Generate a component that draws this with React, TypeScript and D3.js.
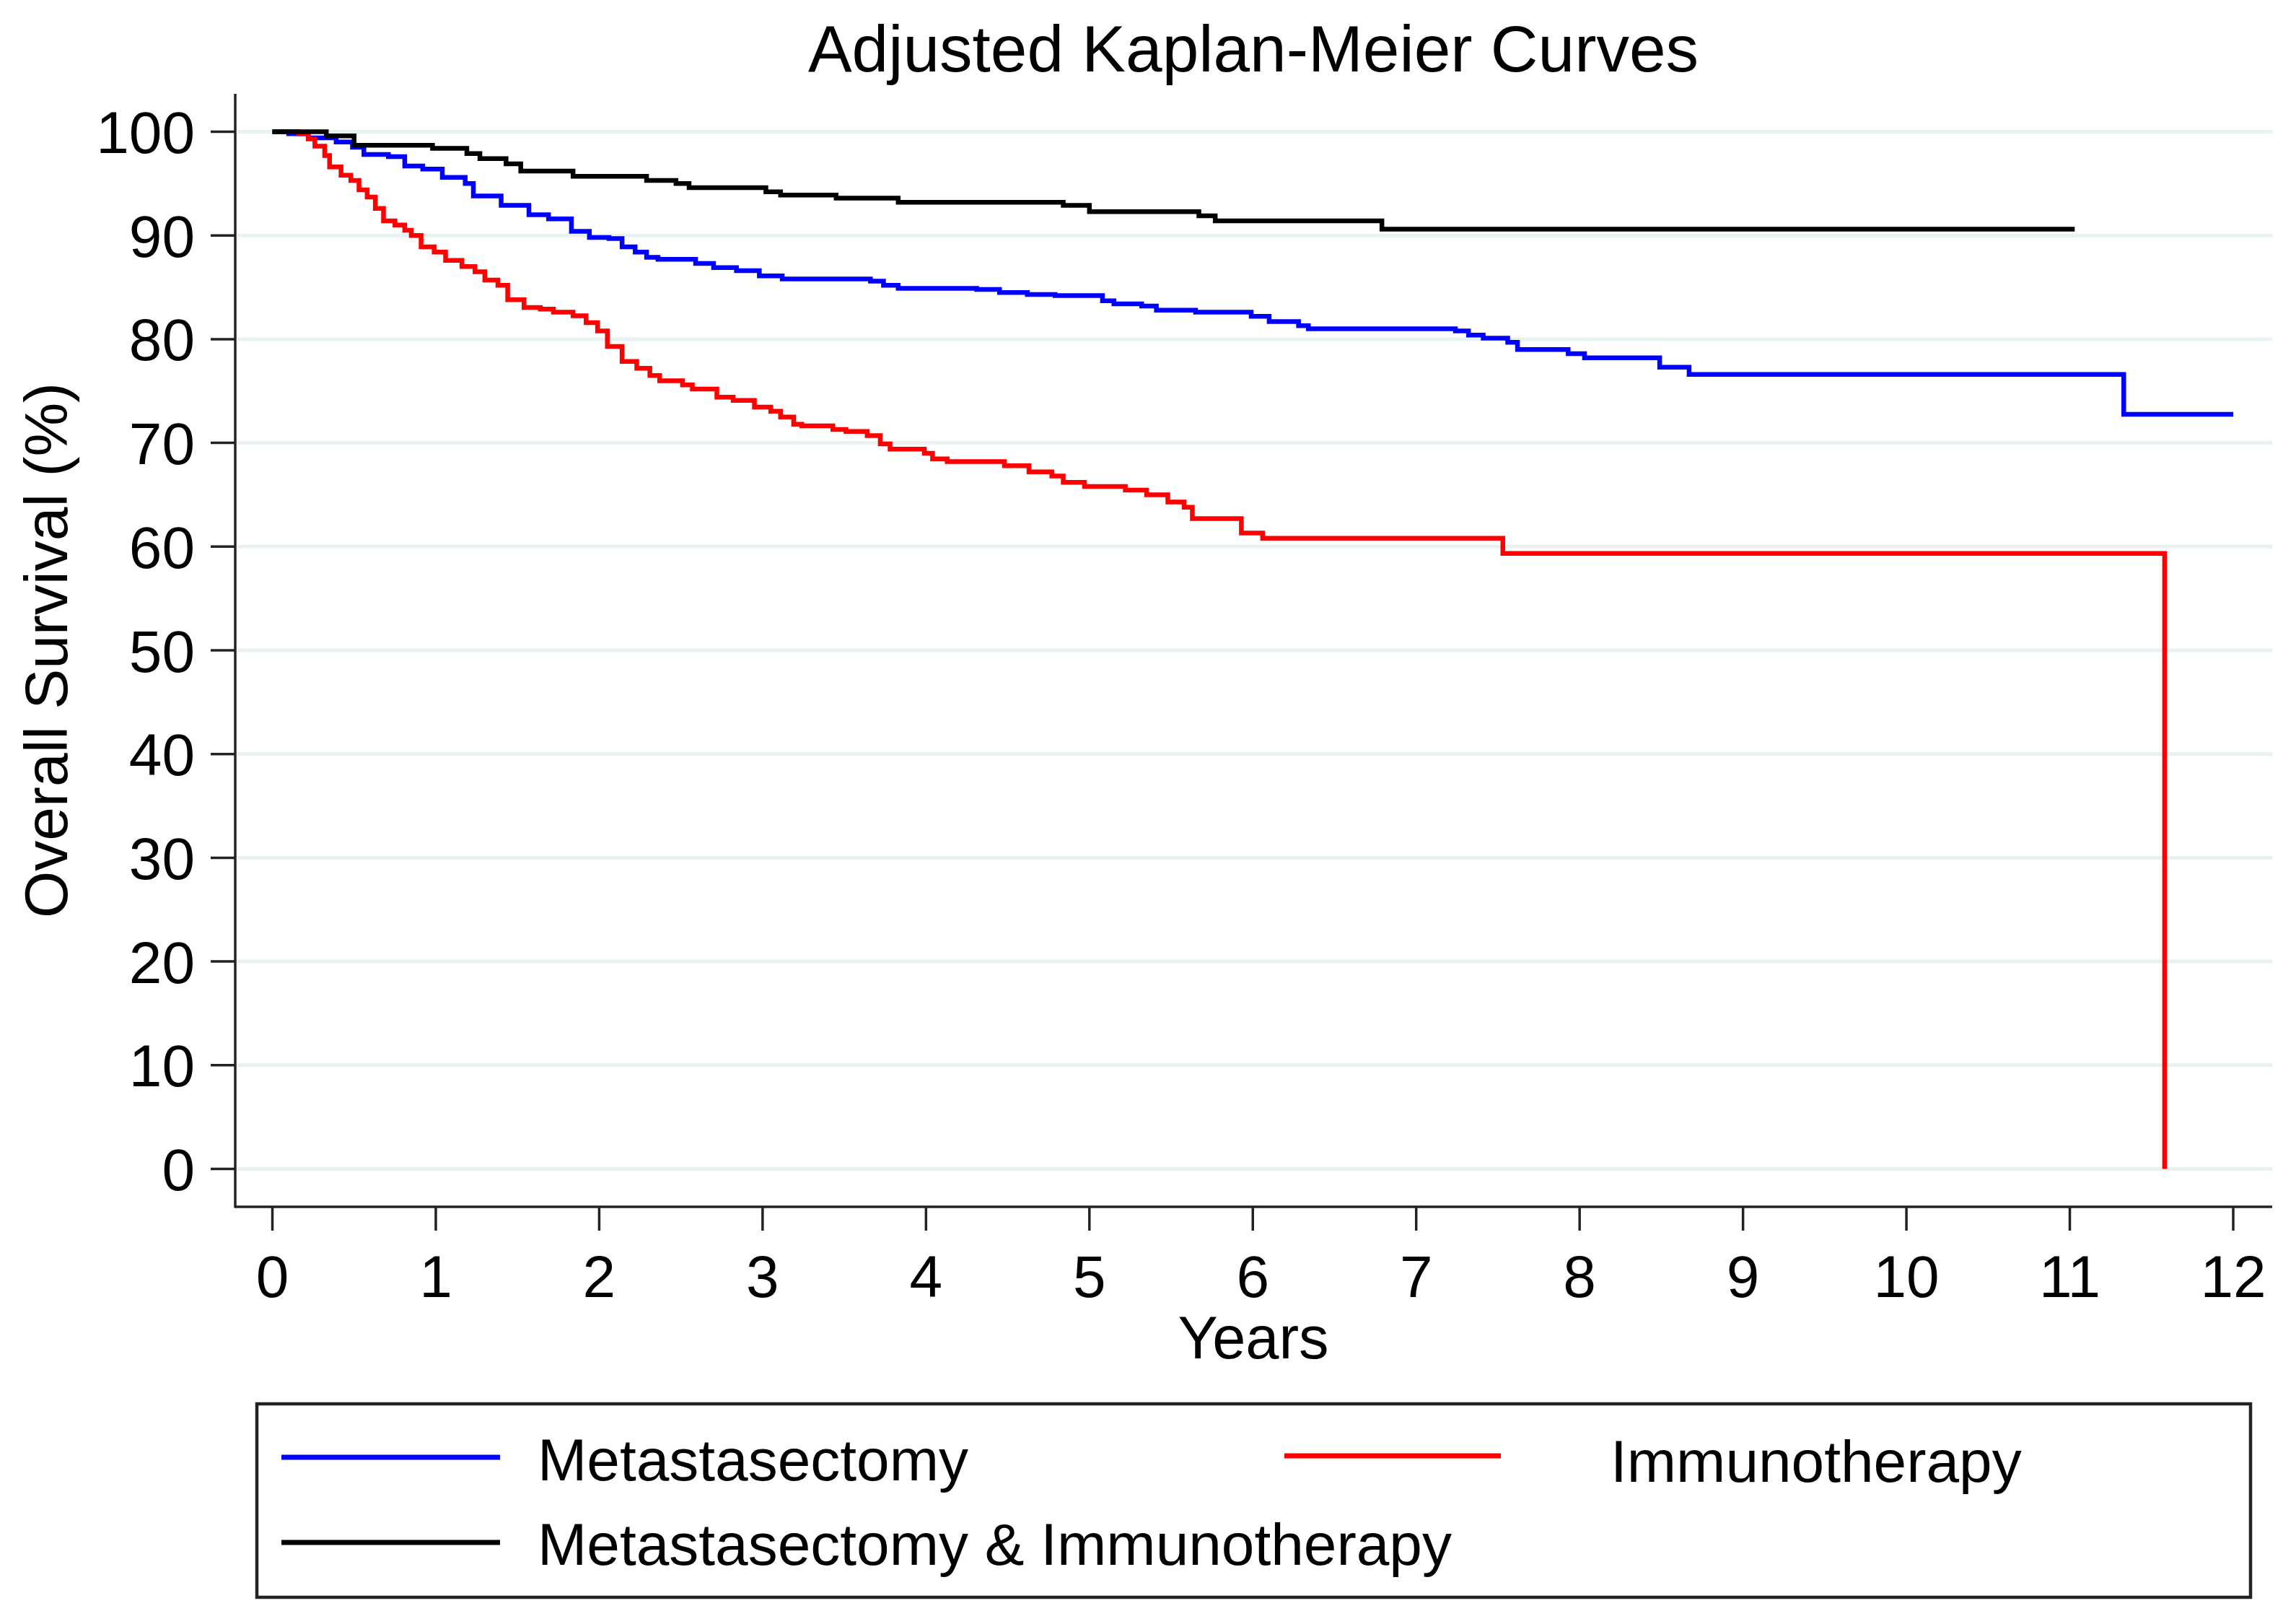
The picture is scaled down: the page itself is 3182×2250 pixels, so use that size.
import * as d3 from "d3";

const WIDTH = 3182;
const HEIGHT = 2250;
const FONT = "'Liberation Sans', Arial, Helvetica, sans-serif";

// x in years, y in % survival
const metaTimes = [0, 0.1, 0.22, 0.39, 0.49, 0.56, 0.71, 0.81, 0.92, 1.04, 1.18, 1.23, 1.4, 1.57, 1.69, 1.83, 1.94, 2.06, 2.14, 2.22, 2.29, 2.36, 2.59, 2.7, 2.84, 2.98, 3.12, 3.66, 3.74, 3.83, 4.31, 4.45, 4.62, 4.79, 5.08, 5.15, 5.32, 5.41, 5.65, 5.99, 6.1, 6.28, 6.34, 7.24, 7.32, 7.41, 7.56, 7.62, 7.93, 8.03, 8.49, 8.67, 11.33, 12.0];
const metaSurv = [100, 99.8, 99.4, 99.0, 98.5, 97.8, 97.6, 96.7, 96.4, 95.6, 95.0, 93.8, 92.9, 92.0, 91.6, 90.4, 89.8, 89.7, 88.9, 88.4, 87.9, 87.7, 87.3, 86.9, 86.6, 86.1, 85.8, 85.6, 85.2, 84.9, 84.8, 84.5, 84.3, 84.2, 83.7, 83.4, 83.2, 82.8, 82.6, 82.2, 81.7, 81.3, 81.0, 80.8, 80.4, 80.1, 79.7, 79.0, 78.6, 78.2, 77.3, 76.6, 72.75, 72.75];

const immunoTimes = [0, 0.16, 0.22, 0.26, 0.32, 0.35, 0.42, 0.48, 0.53, 0.58, 0.63, 0.68, 0.75, 0.81, 0.85, 0.91, 0.99, 1.06, 1.16, 1.24, 1.3, 1.38, 1.44, 1.54, 1.64, 1.72, 1.84, 1.92, 1.99, 2.05, 2.14, 2.23, 2.31, 2.37, 2.51, 2.57, 2.72, 2.82, 2.95, 3.05, 3.11, 3.19, 3.24, 3.43, 3.51, 3.64, 3.72, 3.78, 3.99, 4.04, 4.13, 4.48, 4.63, 4.77, 4.84, 4.97, 5.22, 5.35, 5.48, 5.58, 5.63, 5.93, 6.06, 7.53, 11.58];
const immunoSurv = [100, 99.8, 99.3, 98.6, 97.7, 96.6, 95.8, 95.3, 94.4, 93.7, 92.6, 91.4, 91.0, 90.5, 90.0, 88.9, 88.4, 87.6, 87.0, 86.5, 85.7, 85.2, 83.8, 83.05, 82.9, 82.6, 82.25, 81.6, 80.8, 79.3, 77.85, 77.2, 76.5, 76.0, 75.6, 75.2, 74.4, 74.1, 73.45, 73.05, 72.5, 71.8, 71.65, 71.3, 71.1, 70.7, 69.9, 69.4, 69.0, 68.45, 68.2, 67.8, 67.2, 66.8, 66.2, 65.8, 65.45, 65.0, 64.3, 63.8, 62.7, 61.3, 60.8, 59.35, 0];

const bothTimes = [0, 0.33, 0.5, 0.98, 1.19, 1.27, 1.43, 1.52, 1.84, 2.29, 2.47, 2.55, 3.02, 3.11, 3.45, 3.83, 4.84, 5.0, 5.67, 5.77, 6.79, 11.03];
const bothSurv = [100, 99.6, 98.7, 98.4, 97.9, 97.4, 96.9, 96.2, 95.7, 95.3, 95.0, 94.6, 94.2, 93.9, 93.6, 93.2, 92.9, 92.3, 91.9, 91.4, 90.6, 90.6];

const xTicks = [0, 1, 2, 3, 4, 5, 6, 7, 8, 9, 10, 11, 12];
const yTicks = [0, 10, 20, 30, 40, 50, 60, 70, 80, 90, 100];

const series = [
  { name: "Metastasectomy", color: "#0000ff", times: metaTimes, surv: metaSurv },
  { name: "Immunotherapy", color: "#ff0000", times: immunoTimes, surv: immunoSurv },
  { name: "Metastasectomy & Immunotherapy", color: "#000000", times: bothTimes, surv: bothSurv },
];

const PLOT = { left: 326, right: 3149, top: 130, bottom: 1672 };

export default function App() {
  const xScale = d3.scaleLinear().domain([0, 12]).range([377.5, 3095]);
  const yScale = d3.scaleLinear().domain([0, 100]).range([1619.5, 182.5]);

  const lineBuilder = d3
    .line<[number, number]>()
    .x((d) => xScale(d[0]))
    .y((d) => yScale(d[1]))
    .curve(d3.curveStepAfter);

  return (
    <svg
      width={WIDTH}
      height={HEIGHT}
      style={{ position: "absolute", left: 0, top: 0, background: "#fff" }}
      fontFamily={FONT}
    >
      <rect width={WIDTH} height={HEIGHT} fill="#fff" />
      <text x={1737} y={99} fontSize={91} textAnchor="middle" fill="#000">
        Adjusted Kaplan-Meier Curves
      </text>

      {/* grid */}
      {yTicks.map((t) => (
        <line
          key={"g" + t}
          x1={PLOT.left + 3}
          x2={PLOT.right}
          y1={yScale(t)}
          y2={yScale(t)}
          stroke="#eaf1f3"
          strokeWidth={5}
        />
      ))}

      {/* curves */}
      {series.map((s) => (
        <path
          key={s.name}
          d={lineBuilder(s.times.map((t, i) => [t, s.surv[i]] as [number, number])) || ""}
          fill="none"
          stroke={s.color}
          strokeWidth={6.5}
        />
      ))}

      {/* axes */}
      <line x1={PLOT.left} x2={PLOT.left} y1={PLOT.top} y2={PLOT.bottom + 1.5} stroke="#222" strokeWidth={3.5} />
      <line x1={PLOT.left} x2={PLOT.right} y1={PLOT.bottom} y2={PLOT.bottom} stroke="#222" strokeWidth={3.5} />
      {yTicks.map((t) => (
        <g key={"y" + t}>
          <line x1={292} x2={PLOT.left} y1={yScale(t)} y2={yScale(t)} stroke="#222" strokeWidth={3.5} />
          <text x={270} y={yScale(t)} dy="0.36em" fontSize={82} textAnchor="end" fill="#000">
            {t}
          </text>
        </g>
      ))}
      {xTicks.map((t) => (
        <g key={"x" + t}>
          <line x1={xScale(t)} x2={xScale(t)} y1={PLOT.bottom} y2={1705} stroke="#222" strokeWidth={3.5} />
          <text x={xScale(t)} y={1797} fontSize={82} textAnchor="middle" fill="#000">
            {t}
          </text>
        </g>
      ))}
      <text x={1737} y={1882} fontSize={83} textAnchor="middle" fill="#000">
        Years
      </text>
      <text
        transform={`translate(93, ${(yScale(0) + yScale(100)) / 2}) rotate(-90)`}
        fontSize={84}
        textAnchor="middle"
        fill="#000"
      >
        Overall Survival (%)
      </text>

      {/* legend */}
      <rect x={356} y={1945} width={2763} height={268} fill="#fff" stroke="#222" strokeWidth={4.5} />
      <line x1={390} x2={693} y1={2019} y2={2019} stroke={series[0].color} strokeWidth={7} />
      <text x={745} y={2051} fontSize={82} fill="#000">{series[0].name}</text>
      <line x1={1780} x2={2080} y1={2017} y2={2017} stroke={series[1].color} strokeWidth={7} />
      <text x={2232} y={2053} fontSize={82} fill="#000">{series[1].name}</text>
      <line x1={390} x2={693} y1={2137} y2={2137} stroke={series[2].color} strokeWidth={7} />
      <text x={745} y={2168} fontSize={82} fill="#000">{series[2].name}</text>
    </svg>
  );
}
